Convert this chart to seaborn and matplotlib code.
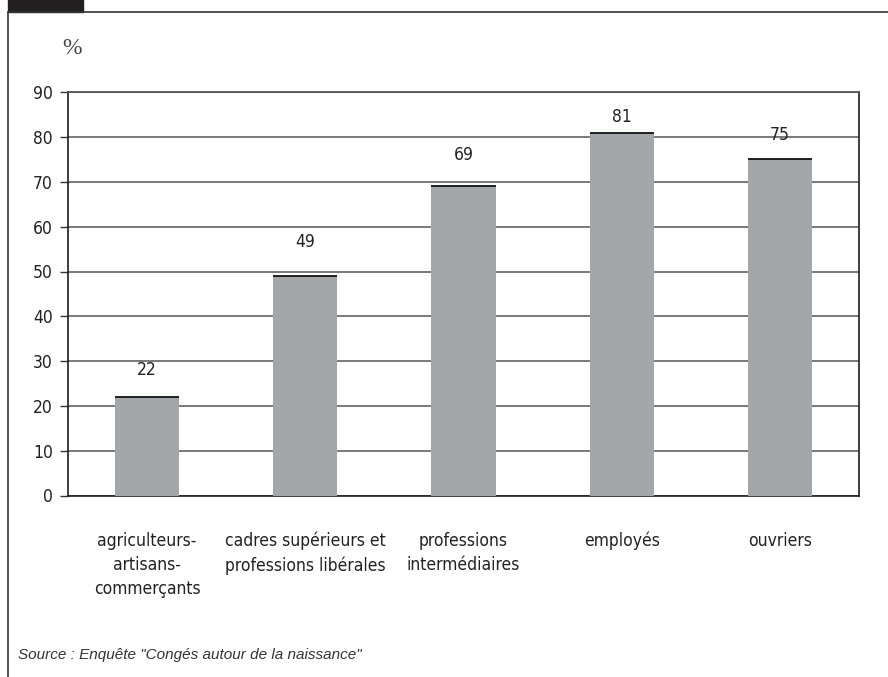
import matplotlib
matplotlib.use("Agg")
import matplotlib.pyplot as plt
from matplotlib import font_manager
import seaborn as sns
import pandas as pd

categories = ["agriculteurs-\nartisans-\ncommerçants",
              "cadres supérieurs et\nprofessions libérales",
              "professions\nintermédiaires",
              "employés",
              "ouvriers"]
values = [22, 49, 69, 81, 75]
y_ticks = [0, 10, 20, 30, 40, 50, 60, 70, 80, 90]
source = 'Source : Enquête "Congés autour de la naissance"'

# value labels were hand-placed in the original, distance above bar top (px)
label_gap = [27, 34, 31, 16, 24]

sns.set_theme(style="white")
fonts = font_manager.fontManager.ttflist
narrow = [f for f in fonts if "Narrow" in f.name or "Condensed" in f.name
          or f.stretch in ("condensed", "semi-condensed", "semicondensed")]
plt.rcParams["font.family"] = ["DejaVu Sans"]
plt.rcParams["font.stretch"] = "condensed"
if narrow:
    plt.rcParams["font.family"] = [narrow[0].name, "DejaVu Sans"]

df = pd.DataFrame({"cat": categories, "val": values})

fig = plt.figure(figsize=(8.88, 6.77), dpi=100)
ax = fig.add_axes([68 / 888, 1 - 495.5 / 677, (859 - 68) / 888, (495.5 - 92.3) / 677])

sns.barplot(data=df, x="cat", y="val", color="#a4a7a9", width=0.405,
            saturation=1, linewidth=0, ax=ax, zorder=3)

ax.set_xlim(-0.5, 4.5)
ax.set_ylim(0, 90)
ax.set_yticks(y_ticks)
ax.yaxis.grid(True, color="#6e6e6e", linewidth=1.3, zorder=0)
ax.set_axisbelow(True)
ax.set_xlabel("")
ax.set_ylabel("")

for side in ["left", "right", "bottom"]:
    ax.spines[side].set_color("#1e1e1e")
    ax.spines[side].set_linewidth(1.2)
ax.spines["top"].set_color("#555555")
ax.spines["top"].set_linewidth(1.3)

ax.tick_params(axis="y", left=True, length=6, width=1.0, color="#333333",
               labelsize=12.5, labelcolor="#222222", pad=5)
ax.tick_params(axis="x", bottom=False, labelsize=12.5, labelcolor="#222222", pad=20)
for lab in ax.get_xticklabels():
    lab.set_linespacing(1.45)

for i, p in enumerate(ax.patches):
    x0 = p.get_x()
    w = p.get_width()
    h = p.get_height()
    ax.hlines(h, x0, x0 + w, color="#111111", linewidth=1.3, zorder=4)
    ax.annotate(f"{values[i]:g}", (x0 + w / 2, h), xytext=(0, label_gap[i] * 0.72),
                textcoords="offset points", ha="center", va="center",
                fontsize=12.5, color="#222222", zorder=5)

# frame and tab of the original layout
fig.add_artist(plt.Line2D([8 / 888, 1], [1 - 12 / 677, 1 - 12 / 677],
                          color="#333333", linewidth=1.2))
fig.add_artist(plt.Line2D([8 / 888, 8 / 888], [0, 1 - 12 / 677],
                          color="#333333", linewidth=1.2))
fig.add_artist(plt.Rectangle((8 / 888, 1 - 12 / 677), 75 / 888, 12 / 677,
                             color="#231f20", transform=fig.transFigure))

fig.text(72 / 888, 1 - 49 / 677, "%", ha="center", va="center",
         fontsize=17, color="#444444", family=["Liberation Serif", "DejaVu Serif"],
         stretch="normal")
fig.text(18 / 888, 1 - 655 / 677, source, ha="left", va="center",
         fontsize=11, style="italic", color="#333333",
         family=["Liberation Sans", "DejaVu Sans"], stretch="normal")

fig.savefig("out.png", dpi=100)
